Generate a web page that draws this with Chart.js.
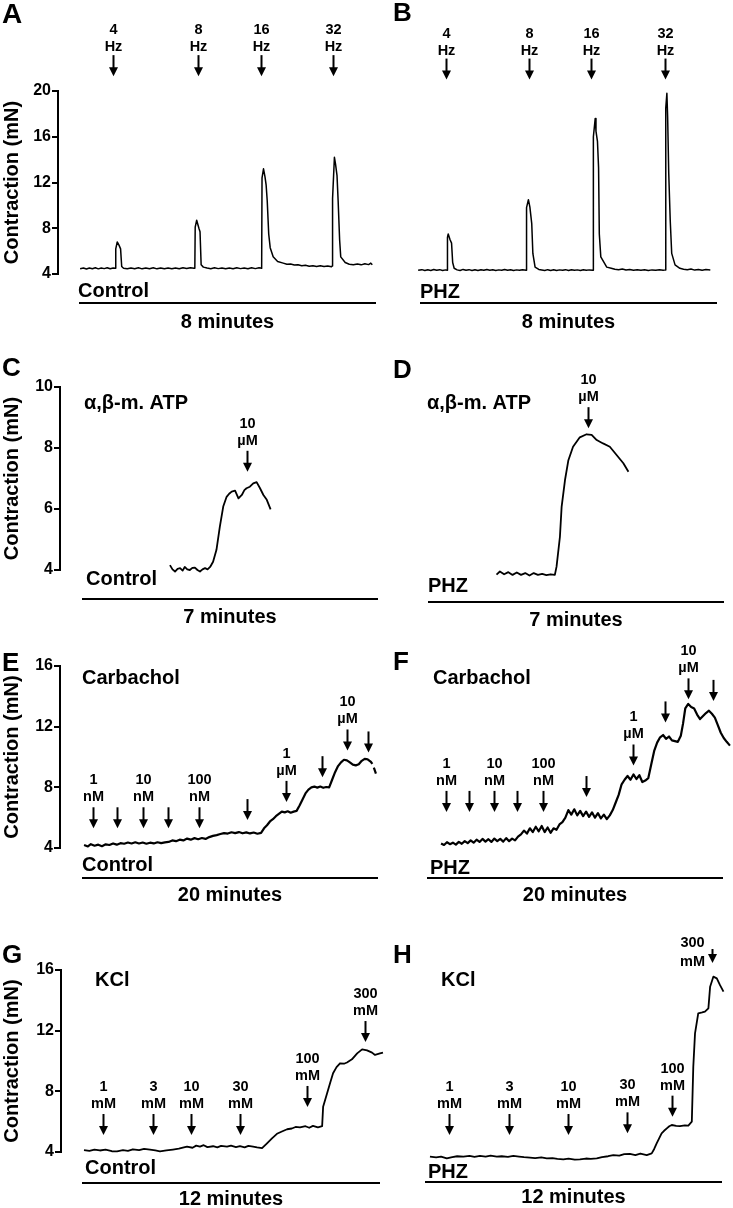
<!DOCTYPE html>
<html>
<head>
<meta charset="utf-8">
<title>Contraction traces</title>
<script src="https://cdn.jsdelivr.net/npm/chart.js@4.4.1/dist/chart.umd.min.js"></script>
<style>
  body { margin: 0; background: #fff; }
  canvas { position: absolute; left: 0; top: 0; }
</style>
</head>
<body>
<script>
// traces: [time (min), contraction (mN)]
const traceA = [[0.03,4.45],[0.12,4.52],[0.2,4.44],[0.28,4.53],[0.36,4.46],[0.44,4.54],[0.52,4.45],[0.6,4.52],[0.68,4.47],[0.76,4.55],[0.84,4.46],[0.92,4.52],[0.98,4.5],
  [0.99,6.2],[1.03,6.8],[1.08,6.5],[1.12,6.2],[1.15,4.65],[1.2,4.5],
  [1.3,4.45],[1.4,4.53],[1.5,4.46],[1.6,4.54],[1.7,4.45],[1.8,4.52],[1.9,4.46],[2.0,4.54],[2.1,4.45],[2.2,4.53],[2.3,4.46],[2.4,4.52],[2.5,4.45],[2.6,4.53],[2.7,4.46],[2.8,4.54],[2.9,4.48],[3.0,4.55],[3.1,4.5],[3.12,4.55],
  [3.13,8.1],[3.17,8.7],[3.23,8.0],[3.26,7.7],[3.29,4.8],[3.35,4.6],
  [3.45,4.52],[3.55,4.46],[3.65,4.54],[3.75,4.47],[3.85,4.53],[3.95,4.45],[4.05,4.52],[4.15,4.46],[4.25,4.54],[4.35,4.47],[4.45,4.53],[4.55,4.46],[4.65,4.54],[4.75,4.47],[4.85,4.55],[4.92,4.5],
  [4.93,12.4],[4.97,13.2],[5.01,12.5],[5.04,11.8],[5.07,10.4],[5.11,7.5],[5.15,6.3],[5.23,5.5],[5.35,5.1],[5.5,4.95],[5.6,4.85],[5.7,4.88],[5.8,4.78],[5.9,4.8],[6.0,4.72],[6.1,4.76],[6.2,4.68],[6.3,4.73],[6.4,4.66],[6.5,4.72],[6.6,4.65],[6.7,4.7],[6.8,4.63],[6.82,4.7],
  [6.83,10.6],[6.88,14.2],[6.91,13.6],[6.95,12.6],[6.98,10.4],[7.02,7.0],[7.05,5.5],[7.17,5.0],[7.28,4.85],[7.39,4.8],[7.5,4.88],[7.6,4.8],[7.7,4.9],[7.8,4.82],[7.86,4.95],[7.9,4.8]];

const traceB = [[-0.05,4.32],[0.05,4.38],[0.13,4.3],[0.21,4.37],[0.29,4.31],[0.37,4.4],[0.45,4.32],[0.53,4.38],[0.61,4.3],[0.69,4.36],[0.73,4.33],
  [0.74,7.2],[0.76,7.5],[0.81,7.0],[0.85,6.7],[0.88,5.0],[0.92,4.5],
  [1.0,4.36],[1.08,4.3],[1.16,4.4],[1.24,4.32],[1.32,4.38],[1.4,4.3],[1.48,4.37],[1.56,4.31],[1.64,4.38],[1.72,4.32],[1.8,4.4],[1.88,4.33],[1.96,4.37],[2.04,4.3],[2.12,4.36],[2.2,4.32],[2.28,4.4],[2.36,4.33],[2.44,4.37],[2.52,4.3],[2.6,4.36],[2.68,4.32],[2.76,4.38],[2.86,4.33],
  [2.87,9.8],[2.92,10.5],[2.96,9.85],[3.01,8.4],[3.04,5.8],[3.1,4.6],
  [3.2,4.4],[3.28,4.35],[3.36,4.3],[3.44,4.38],[3.52,4.31],[3.6,4.37],[3.68,4.3],[3.76,4.36],[3.84,4.32],[3.92,4.38],[4.0,4.3],[4.08,4.37],[4.16,4.32],[4.24,4.36],[4.32,4.3],[4.4,4.37],[4.48,4.32],[4.56,4.36],[4.66,4.33],
  [4.67,16.0],[4.72,17.6],[4.74,16.5],[4.78,15.6],[4.81,13.3],[4.83,7.5],[4.87,5.5],[5.03,4.6],
  [5.15,4.5],[5.25,4.42],[5.35,4.38],[5.45,4.44],[5.55,4.35],[5.65,4.4],[5.75,4.33],[5.85,4.38],[5.95,4.32],[6.05,4.37],[6.15,4.31],[6.25,4.36],[6.35,4.32],[6.45,4.38],[6.55,4.33],[6.61,4.36],
  [6.62,18.5],[6.65,19.8],[6.67,17.8],[6.7,12.8],[6.74,8.7],[6.78,5.8],[6.87,4.8],[7.0,4.5],
  [7.1,4.42],[7.2,4.37],[7.3,4.43],[7.4,4.34],[7.5,4.4],[7.6,4.33],[7.7,4.39],[7.82,4.35]];

const traceC = [[2.08,4.16],[2.14,4.02],[2.2,3.95],[2.26,4.04],[2.32,4.06],[2.38,3.98],[2.43,4.1],[2.49,4.02],[2.55,4.0],[2.61,4.07],[2.67,4.08],[2.73,4.0],[2.79,3.95],[2.85,4.02],[2.91,4.06],[2.97,4.02],[3.03,4.1],
  [3.1,4.27],[3.18,4.66],[3.26,5.42],[3.34,6.08],[3.42,6.4],[3.48,6.5],[3.54,6.57],[3.62,6.6],[3.7,6.35],[3.78,6.46],[3.84,6.62],[3.89,6.68],[3.97,6.73],[4.05,6.84],[4.13,6.88],[4.21,6.68],[4.29,6.46],[4.37,6.3],[4.46,5.99]];

const traceD = [[1.62,3.85],[1.7,3.95],[1.8,3.86],[1.9,3.93],[2.0,3.84],[2.1,3.92],[2.2,3.84],[2.3,3.9],[2.4,3.82],[2.5,3.9],[2.6,3.84],[2.7,3.87],[2.8,3.83],[2.9,3.86],[3.0,3.84],
  [3.04,4.11],[3.12,5.09],[3.16,6.07],[3.24,6.95],[3.32,7.6],[3.43,8.04],[3.59,8.35],[3.75,8.45],[3.87,8.43],[3.99,8.26],[4.14,8.15],[4.3,8.04],[4.46,7.77],[4.62,7.5],[4.74,7.22]];

const traceE = [[0.14,4.2],[0.4,4.1],[0.6,4.25],[0.85,4.15],[1.1,4.22],[1.35,4.12],[1.6,4.24],[1.85,4.2],[2.1,4.3],[2.35,4.22],[2.6,4.32],[2.85,4.28],[3.1,4.36],[3.35,4.3],[3.6,4.38],[3.85,4.3],[4.1,4.36],[4.35,4.28],[4.6,4.35],[4.85,4.3],[5.1,4.38],[5.35,4.32],[5.6,4.37],[5.85,4.4],
  [6.1,4.5],[6.35,4.45],[6.6,4.55],[6.85,4.5],[7.1,4.62],[7.35,4.55],[7.6,4.65],[7.85,4.58],[8.1,4.66],[8.35,4.6],[8.6,4.72],[8.85,4.8],[9.1,4.85],[9.35,4.92],[9.6,4.98],[9.85,4.95],[10.1,5.04],[10.35,4.98],[10.6,5.05],[10.85,4.97],[11.1,5.03],[11.35,4.96],[11.6,5.02],[11.85,4.94],[12.1,5.0],
  [12.3,5.3],[12.5,5.5],[12.7,5.75],[12.9,5.9],[13.1,6.1],[13.3,6.25],[13.5,6.4],[13.7,6.35],[13.9,6.42],[14.1,6.33],[14.3,6.4],[14.5,6.45],[14.7,6.8],[14.9,7.2],[15.1,7.6],[15.3,7.85],[15.5,8.0],[15.7,8.05],[15.9,7.98],[16.1,8.05],[16.3,7.97],[16.5,8.02],[16.7,8.0],
  [16.9,8.5],[17.1,9.0],[17.3,9.4],[17.5,9.65],[17.7,9.82],[17.9,9.78],[18.1,9.65],[18.3,9.5],[18.5,9.45],[18.7,9.52],[18.9,9.75],[19.1,9.88],[19.3,9.85],[19.5,9.7],[19.62,9.55],[19.66,null],[19.72,9.3],[19.86,8.9]];

const traceF = [[0.95,4.3],[1.15,4.2],[1.35,4.38],[1.55,4.25],[1.75,4.35],[1.95,4.22],[2.15,4.4],[2.35,4.28],[2.55,4.45],[2.75,4.32],[2.95,4.5],[3.15,4.35],[3.35,4.55],[3.55,4.4],[3.75,4.6],[3.95,4.42],[4.15,4.58],[4.35,4.4],[4.55,4.62],[4.75,4.45],[4.95,4.6],[5.15,4.42],[5.35,4.65],[5.55,4.45],[5.75,4.62],[5.95,4.5],
  [6.15,4.75],[6.35,4.9],[6.55,5.15],[6.75,4.95],[6.95,5.3],[7.15,5.05],[7.35,5.4],[7.55,5.1],[7.75,5.45],[7.95,5.05],[8.15,5.35],[8.35,5.0],[8.55,5.3],[8.75,5.2],[8.95,5.55],[9.15,5.7],[9.35,6.0],[9.55,6.5],[9.75,6.2],[9.95,6.55],[10.15,6.15],[10.35,6.45],[10.55,6.1],[10.75,6.4],[10.95,6.05],[11.15,6.35],[11.35,6.0],[11.55,6.3],[11.75,5.95],[11.95,6.2],[12.15,5.9],[12.35,6.15],
  [12.55,6.5],[12.75,7.0],[12.95,7.5],[13.15,8.2],[13.35,8.5],[13.55,8.75],[13.75,8.5],[13.95,8.85],[14.15,8.55],[14.35,8.8],[14.55,8.35],[14.75,8.45],[14.95,8.6],[15.15,9.5],[15.35,10.4],[15.55,10.95],[15.75,11.3],[15.95,11.45],[16.15,11.2],[16.35,11.35],[16.55,11.1],[16.75,11.05],[16.95,11.0],[17.15,11.4],
  [17.3,12.2],[17.45,13.2],[17.65,13.5],[17.85,13.3],[18.05,13.2],[18.25,12.8],[18.45,12.5],[18.65,12.7],[18.85,12.9],[19.05,13.05],[19.25,12.85],[19.45,12.6],[19.65,12.1],[19.85,11.6],[20.05,11.25],[20.25,11.0],[20.47,10.75]];

const traceG = [[0.08,4.13],[0.3,4.08],[0.5,4.16],[0.72,4.1],[0.95,4.15],[1.2,4.05],[1.41,4.04],[1.65,4.12],[1.85,4.08],[2.05,4.18],[2.3,4.12],[2.5,4.2],[2.74,4.15],[2.95,4.1],[3.14,4.04],[3.4,4.1],[3.66,4.16],[3.9,4.22],
  [4.1,4.3],[4.23,4.35],[4.45,4.28],[4.6,4.42],[4.75,4.35],[4.9,4.45],[5.05,4.32],[5.28,4.38],[5.45,4.3],[5.6,4.4],[5.84,4.35],[6.0,4.42],[6.2,4.32],[6.36,4.38],[6.55,4.3],[6.7,4.4],[6.89,4.35],[7.05,4.3],[7.25,4.25],
  [7.45,4.57],[7.65,4.9],[7.85,5.2],[8.05,5.35],[8.26,5.5],[8.45,5.55],[8.6,5.65],[8.78,5.62],[9.0,5.7],[9.15,5.6],[9.3,5.72],[9.5,5.62],[9.67,5.7],
  [9.71,6.99],[9.87,7.87],[10.0,8.6],[10.11,9.19],[10.25,9.6],[10.39,9.85],[10.55,9.82],[10.67,9.9],[10.87,10.11],[11.08,10.5],[11.28,10.77],[11.48,10.7],[11.68,10.55],[11.8,10.4],[12.0,10.5],[12.12,10.55]];

const traceH = [[0.2,3.69],[0.45,3.64],[0.65,3.7],[0.88,3.58],[1.1,3.66],[1.3,3.72],[1.55,3.69],[1.8,3.74],[2.0,3.68],[2.22,3.74],[2.45,3.7],[2.65,3.76],[2.9,3.69],[3.1,3.72],[3.35,3.68],[3.57,3.74],[3.8,3.7],[4.0,3.66],
  [4.24,3.63],[4.45,3.6],[4.7,3.64],[4.92,3.58],[5.15,3.6],[5.35,3.55],[5.59,3.52],[5.8,3.56],[6.05,3.5],[6.26,3.52],[6.5,3.57],[6.7,3.55],[6.94,3.58],[7.15,3.66],[7.4,3.72],[7.61,3.8],[7.85,3.76],[8.05,3.86],[8.28,3.87],[8.5,3.8],[8.7,3.9],[8.96,3.8],[9.16,3.91],
  [9.26,4.2],[9.36,4.57],[9.46,4.9],[9.56,5.23],[9.66,5.4],[9.77,5.56],[9.87,5.7],[9.97,5.78],[10.15,5.72],[10.3,5.7],[10.5,5.76],[10.64,5.74],[10.78,6.0],
  [10.84,9.62],[10.91,11.82],[11.04,13.14],[11.2,13.2],[11.31,13.25],[11.45,13.47],[11.52,14.9],[11.65,15.56],[11.79,15.45],[11.92,15.0],[12.06,14.57]];

// y-axis tick labels (mN)
const ticksRow1 = [4, 8, 12, 16, 20];
const ticksRow2 = [4, 6, 8, 10];
const ticksRow3 = [4, 8, 12, 16];
const ticksRow4 = [4, 8, 12, 16];

// additions: time (min), arrow tip (mN), label
const arrowsA = [0.92, 3.21, 4.91, 6.85];
const tipsA = [21.3, 21.3, 21.3, 21.3];
const labelsA = [['4', 'Hz'], ['8', 'Hz'], ['16', 'Hz'], ['32', 'Hz']];

const arrowsB = [0.70, 2.94, 4.61, 6.60];
const tipsB = [21.0, 21.0, 21.0, 21.0];
const labelsB = [['4', 'Hz'], ['8', 'Hz'], ['16', 'Hz'], ['32', 'Hz']];

const arrowsC = [3.9];
const tipsC = [7.22];
const labelsC = [['10', 'µM']];

const arrowsD = [3.78];
const tipsD = [8.65];
const labelsD = [['10', 'µM']];

const arrowsE = [0.74, 2.36, 4.12, 5.81, 7.91, 11.15, 13.78, 16.22, 17.91, 19.32];
const tipsE = [5.3, 5.3, 5.3, 5.3, 5.3, 5.84, 7.04, 8.67, 10.43, 10.3];
const labelsE = [['1', 'nM'], [], ['10', 'nM'], [], ['100', 'nM'], [], ['1', 'µM'], [], ['10', 'µM'], []];

const arrowsF = [1.28, 2.84, 4.53, 6.08, 7.84, 10.74, 13.92, 16.08, 17.64, 19.32];
const tipsF = [6.38, 6.38, 6.38, 6.38, 6.38, 7.36, 9.44, 12.28, 13.8, 13.7];
const labelsF = [['1', 'nM'], [], ['10', 'nM'], [], ['100', 'nM'], [], ['1', 'µM'], [], ['10', 'µM'], []];

const arrowsG = [0.85, 2.86, 4.39, 6.36, 9.06, 11.4];
const tipsG = [5.12, 5.12, 5.12, 5.12, 6.97, 11.25];
const labelsG = [['1', 'mM'], ['3', 'mM'], ['10', 'mM'], ['30', 'mM'], ['100', 'mM'], ['300', 'mM']];

const arrowsH = [0.97, 3.39, 5.78, 8.16, 9.98, 11.6];
const tipsH = [5.12, 5.12, 5.12, 5.23, 6.33, 16.46];
const labelsH = [['1', 'mM'], ['3', 'mM'], ['10', 'mM'], ['30', 'mM'], ['100', 'mM'], ['300', 'mM']];

const FONT = "'Liberation Sans', Arial, Helvetica, sans-serif";
const W = 733, H = 1208;

// page layout of every panel (pixels)
const panels = [
  { letter: 'A', letterXY: [2, 15], letterSize: 28, trace: traceA, ticks: ticksRow1, axis: true,
    area: [58, 388], top: 91, bottom: 274, bar: [79, 376, 303], dur: 8, lw: 1.5, labelGap: 8,
    arrows: arrowsA, tips: tipsA, labels: labelsA, caption: '8 minutes', captionY: 322,
    cond: 'Control', condXY: [78, 291] },
  { letter: 'B', letterXY: [393, 14], letterSize: 26, trace: traceB, ticks: ticksRow1, axis: false,
    area: [405, 733], top: 91, bottom: 274, bar: [420, 717, 303], dur: 8, lw: 1.5, labelGap: 8,
    arrows: arrowsB, tips: tipsB, labels: labelsB, caption: '8 minutes', captionY: 322,
    cond: 'PHZ', condXY: [420, 292] },
  { letter: 'C', letterXY: [2, 369], letterSize: 26, trace: traceC, ticks: ticksRow2, axis: true,
    area: [60, 388], top: 387, bottom: 570, bar: [82, 378, 599], dur: 7, lw: 1.8,
    arrows: arrowsC, tips: tipsC, labels: labelsC, caption: '7 minutes', captionY: 617,
    cond: 'Control', condXY: [86, 579], agent: 'α,β-m. ATP', agentXY: [84, 403] },
  { letter: 'D', letterXY: [393, 371], letterSize: 26, trace: traceD, ticks: ticksRow2, axis: false,
    area: [405, 733], top: 387, bottom: 570, bar: [428, 724, 602], dur: 7, lw: 1.8,
    arrows: arrowsD, tips: tipsD, labels: labelsD, caption: '7 minutes', captionY: 620,
    cond: 'PHZ', condXY: [428, 586], agent: 'α,β-m. ATP', agentXY: [427, 403] },
  { letter: 'E', letterXY: [2, 664], letterSize: 26, trace: traceE, ticks: ticksRow3, axis: true,
    area: [60, 388], top: 666, bottom: 848, bar: [82, 378, 878], dur: 20, lw: 2.2,
    arrows: arrowsE, tips: tipsE, labels: labelsE, caption: '20 minutes', captionY: 895,
    cond: 'Control', condXY: [82, 865], agent: 'Carbachol', agentXY: [82, 678] },
  { letter: 'F', letterXY: [393, 663], letterSize: 26, trace: traceF, ticks: ticksRow3, axis: false,
    area: [405, 733], top: 666, bottom: 848, bar: [427, 723, 878], dur: 20, lw: 2.2,
    arrows: arrowsF, tips: tipsF, labels: labelsF, caption: '20 minutes', captionY: 895,
    cond: 'PHZ', condXY: [430, 868], agent: 'Carbachol', agentXY: [433, 678] },
  { letter: 'G', letterXY: [2, 956], letterSize: 26, trace: traceG, ticks: ticksRow4, axis: true,
    area: [61, 388], top: 970, bottom: 1152, bar: [82, 380, 1183], dur: 12, lw: 1.8,
    arrows: arrowsG, tips: tipsG, labels: labelsG, caption: '12 minutes', captionY: 1199,
    cond: 'Control', condXY: [85, 1168], agent: 'KCl', agentXY: [95, 980] },
  { letter: 'H', letterXY: [393, 956], letterSize: 26, trace: traceH, ticks: ticksRow4, axis: false,
    area: [405, 733], top: 970, bottom: 1152, bar: [425, 722, 1182], dur: 12, lw: 1.8,
    arrows: arrowsH, tips: tipsH, labels: labelsH, caption: '12 minutes', captionY: 1197,
    cond: 'PHZ', condXY: [428, 1172], agent: 'KCl', agentXY: [441, 980], sideLabel: 5 }
];

Chart.defaults.font.family = FONT;
Chart.defaults.font.weight = 'bold';
Chart.defaults.color = '#000';

function notes(p) {
  return {
    id: 'notes' + p.letter,
    afterDraw(chart) {
      const { ctx } = chart;
      const x = chart.scales.x, y = chart.scales.y;
      ctx.save();
      ctx.fillStyle = '#000';
      ctx.strokeStyle = '#000';
      ctx.textBaseline = 'middle';

      ctx.font = `bold ${p.letterSize}px ${FONT}`;
      ctx.textAlign = 'left';
      ctx.fillText(p.letter, p.letterXY[0], p.letterXY[1]);

      const gap = p.labelGap || 10;
      p.arrows.forEach((t, i) => {
        const ax = Math.round(x.getPixelForValue(t)) + 0.5;
        const tipY = y.getPixelForValue(p.tips[i]);
        const side = p.sideLabel === i;
        const len = side ? 14 : 21;
        ctx.lineWidth = 2;
        ctx.beginPath();
        ctx.moveTo(ax, tipY - len);
        ctx.lineTo(ax, tipY - 6);
        ctx.stroke();
        ctx.beginPath();
        ctx.moveTo(ax - 4.5, tipY - 9);
        ctx.lineTo(ax + 4.5, tipY - 9);
        ctx.lineTo(ax, tipY);
        ctx.closePath();
        ctx.fill();

        const lab = p.labels[i];
        if (!lab.length) return;
        ctx.font = `bold 14.5px ${FONT}`;
        ctx.textAlign = 'center';
        if (side) {
          ctx.fillText(lab[0], ax - 20, tipY - 20);
          ctx.fillText(lab[1], ax - 20, tipY - 1);
        } else {
          const uy = tipY - len - gap;
          ctx.fillText(lab[1], ax, uy);
          ctx.fillText(lab[0], ax, uy - 17);
        }
      });

      const x0 = x.getPixelForValue(0), x1 = x.getPixelForValue(p.dur);
      ctx.lineWidth = 2;
      ctx.beginPath();
      ctx.moveTo(x0, p.bar[2]);
      ctx.lineTo(x1, p.bar[2]);
      ctx.stroke();

      ctx.font = `bold 20px ${FONT}`;
      ctx.textAlign = 'center';
      ctx.fillText(p.caption, (x0 + x1) / 2, p.captionY);
      ctx.textAlign = 'left';
      ctx.fillText(p.cond, p.condXY[0], p.condXY[1]);
      if (p.agent) ctx.fillText(p.agent, p.agentXY[0], p.agentXY[1]);
      ctx.restore();
    }
  };
}

function buildPanel(p) {
  const canvas = document.createElement('canvas');
  canvas.width = W;
  canvas.height = H;
  document.body.appendChild(canvas);

  // time bar spans 0..dur minutes
  const span = p.bar[1] - p.bar[0];
  const xMin = (p.area[0] - p.bar[0]) / span * p.dur;
  const xMax = (p.area[1] - p.bar[0]) / span * p.dur;

  const yScale = {
    type: 'linear',
    display: p.axis,
    min: p.ticks[0],
    max: p.ticks[p.ticks.length - 1],
    afterBuildTicks: s => { s.ticks = p.ticks.map(v => ({ value: v })); },
    grid: { drawOnChartArea: false, color: '#000', lineWidth: 2, tickLength: 6 },
    border: { display: true, color: '#000', width: 2 },
    ticks: { padding: 1, color: '#000', font: { size: 16, weight: 'bold' } },
    title: {
      display: true,
      text: 'Contraction (mN)',
      color: '#000',
      font: { size: 20, weight: 'bold' },
      padding: { top: 0, bottom: 0 }
    }
  };
  if (p.axis) yScale.afterFit = s => { s.width = p.area[0]; };

  new Chart(canvas, {
    type: 'line',
    data: {
      datasets: [{
        data: p.trace.map(d => ({ x: d[0], y: d[1] })),
        borderColor: '#000',
        borderWidth: p.lw,
        borderJoinStyle: 'round',
        pointRadius: 0,
        tension: 0,
        spanGaps: false,
        clip: false
      }]
    },
    options: {
      responsive: false,
      animation: false,
      devicePixelRatio: 1,
      layout: {
        padding: { left: p.axis ? 0 : p.area[0], right: W - p.area[1], top: p.top, bottom: H - p.bottom }
      },
      plugins: { legend: { display: false }, tooltip: { enabled: false } },
      scales: {
        x: { type: 'linear', display: false, min: xMin, max: xMax },
        y: yScale
      }
    },
    plugins: [notes(p)]
  });
}

panels.forEach(buildPanel);
</script>
</body>
</html>
